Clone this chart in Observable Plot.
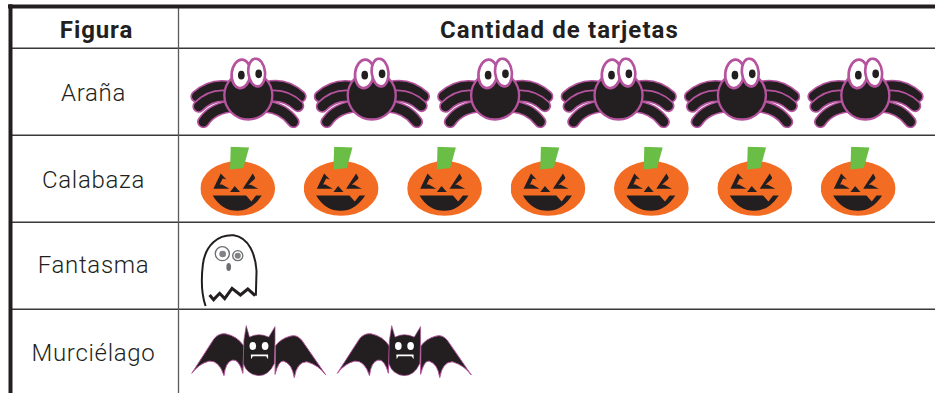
<!DOCTYPE html>
<html lang="es">
<head>
<meta charset="utf-8">
<style>html,body{margin:0;padding:0;background:#fff;overflow:hidden}svg{display:block}
.h1 text,text.h1{letter-spacing:.9px}
.h2 text,text.h2{letter-spacing:1.1px}
.lab text,text.lab{letter-spacing:.7px}
</style>
<script src="https://cdn.jsdelivr.net/npm/d3@7"></script>
<script src="https://cdn.jsdelivr.net/npm/@observablehq/plot@0.6"></script>
</head>
<body>
<div id="chart"></div>
<script>
const figures = ["Araña", "Calabaza", "Fantasma", "Murciélago"];
const cardCounts = [6, 7, 1, 2];
const headers = ["Figura", "Cantidad de tarjetas"];

// Layout per row: first icon centre, icon spacing, icon box size (all in x-scale units / px)
const layout = {
  "Araña":      {start: 248, step: 123.4, w: 117, h: 71, cy: 0.51},
  "Calabaza":   {start: 237.4, step: 103.4, w: 75,  h: 70, cy: 0.53},
  "Fantasma":   {start: 228.7, step: 100,   w: 58,  h: 75, cy: 0.55},
  "Murciélago": {start: 258.3, step: 145.5, w: 136, h: 54, cy: 0.49}
};

const ink = "#231f20", purple = "#b5539e";
const wrap = (vb, body) => "data:image/svg+xml," + encodeURIComponent(
  `<svg xmlns="http://www.w3.org/2000/svg" viewBox="${vb}" preserveAspectRatio="none">${body}</svg>`);

const leg = d => `<path d="${d}" fill="none" stroke="${purple}" stroke-width="38" stroke-linecap="round"/><path d="${d}" fill="none" stroke="${ink}" stroke-width="28" stroke-linecap="round"/>`;
const spider = wrap("30 22 351 213", `
  ${leg("M150 112 Q95 100 50 140")}
  ${leg("M150 140 Q95 130 56 170")}
  ${leg("M160 170 Q100 172 70 216")}
  ${leg("M260 112 Q315 98 361 140")}
  ${leg("M260 140 Q315 130 354 168")}
  ${leg("M255 170 Q310 174 340 216")}
  <circle cx="205" cy="137" r="72" fill="${ink}" stroke="${purple}" stroke-width="7"/>
  <ellipse cx="183" cy="72" rx="28" ry="43" transform="rotate(6 183 72)" fill="#fff" stroke="${purple}" stroke-width="8"/>
  <ellipse cx="230" cy="68" rx="25" ry="42" transform="rotate(-6 230 68)" fill="#fff" stroke="${purple}" stroke-width="8"/>
  <ellipse cx="184" cy="76" rx="10" ry="13" fill="${ink}"/>
  <ellipse cx="236" cy="72" rx="10" ry="13" fill="${ink}"/>`);

const pumpkin = wrap("61 289 225 210", `
  <ellipse cx="173" cy="415" rx="112" ry="82" fill="#f36c23"/>
  <path d="M152 290 L207 292 L190 354 L150 358 Z" fill="#6abd45"/>
  <path d="M122 370 L100 416 L148 416 L126 403 L119 403 L128 385 L139 388 Z" fill="${ink}"/>
  <path d="M218 370 L188 416 L235 416 L212 404 L205 404 L224 387 L225 382 Z" fill="${ink}"/>
  <path d="M164 408 L150 426 L180 426 Z" fill="${ink}"/>
  <path d="M98 436 H198 L214 454 L228 436 H245 Q215 482 172 482 Q125 482 98 436 Z" fill="${ink}"/>`);

const ghost = wrap("60 25 173 225", `
  <path d="M76 245 C64 210 62 170 68 120 C76 60 115 30 160 33 C205 40 225 90 228 140 L226 214" fill="none" stroke="${ink}" stroke-width="6"/>
  <path d="M88 212 L100 226 L118 207 L133 223 L155 192 L180 212 L202 194 L224 214" fill="none" stroke="${ink}" stroke-width="9"/>
  <circle cx="126" cy="88" r="21" fill="#fff" stroke="#6d6e71" stroke-width="4"/>
  <circle cx="127" cy="89" r="10" fill="#808285"/>
  <circle cx="172" cy="94" r="15" fill="#fff" stroke="#6d6e71" stroke-width="4"/>
  <circle cx="172" cy="94" r="9" fill="#808285"/>
  <ellipse cx="145" cy="128" rx="7" ry="12" fill="#6d6e71"/>`);

const bat = wrap("30 298 410 164", `
  <path d="M33 445 L100 340 Q115 322 135 325 Q170 332 190 362 L187 445 Q175 400 155 405 Q135 410 130 452 Q115 405 85 408 Q55 415 33 445 Z" fill="${ink}" stroke="${purple}" stroke-width="3"/>
  <path d="M437 450 L365 345 Q350 326 330 332 Q300 340 285 362 L284 448 Q295 405 310 408 Q335 415 342 458 Q350 410 380 410 Q415 420 437 450 Z" fill="${ink}" stroke="${purple}" stroke-width="3"/>
  <path d="M190 345 L197 300 L207 335 Q235 320 265 335 L284 303 L284 345 L282 415 Q265 452 235 452 Q200 450 188 415 Z" fill="${ink}" stroke="${purple}" stroke-width="2"/>
  <ellipse cx="217" cy="362" rx="10" ry="12" fill="#fff"/>
  <ellipse cx="254" cy="362" rx="10" ry="12" fill="#fff"/>
  <path d="M211 388 H263 V402 L257 393 H217 L212 402 Z" fill="#fff"/>`);

const icons = {"Araña": spider, "Calabaza": pumpkin, "Fantasma": ghost, "Murciélago": bat};

const iconMarks = figures.map((f, r) => {
  const l = layout[f];
  const rows = d3.range(cardCounts[r]).map(i => ({x: l.start + i * l.step, y: r + l.cy}));
  return Plot.image(rows, {x: "x", y: "y", src: () => icons[f], width: l.w, height: l.h, preserveAspectRatio: "none"});
});

const fontFamily = "Roboto, sans-serif";
const labelY = [0.52, 0.52, 0.495, 0.51];

const chart = Plot.plot({
  width: 935, height: 393,
  marginTop: 0, marginRight: 0, marginBottom: 0, marginLeft: 0,
  style: {background: "#fff", fontFamily},
  x: {domain: [0, 935], range: [0, 935], axis: null},
  y: {domain: [-47.8 / 87, 345.2 / 87], range: [0, 393], axis: null},
  marks: [
    Plot.ruleY([0, 1, 2, 3], {x1: 10, x2: 935, stroke: "#3a3839", strokeWidth: 1.6}),
    Plot.ruleX([178], {y1: -0.48, y2: 3.97, stroke: "#5a5a5c", strokeWidth: 1.3}),
    Plot.ruleY([-0.48], {x1: 8, x2: 935, stroke: ink, strokeWidth: 4}),
    Plot.ruleX([10], {y1: -0.5, y2: 3.97, stroke: ink, strokeWidth: 4}),
    Plot.text([headers[0]], {x: () => 96, y: () => -0.21, text: d => d, fontSize: 24, fontWeight: 700, fill: ink, className: "h1"}),
    Plot.text([headers[1]], {x: () => 559, y: () => -0.21, text: d => d, fontSize: 24, fontWeight: 700, fill: ink, className: "h2"}),
    Plot.text(figures, {x: () => 93, y: (d, i) => i + labelY[i], text: d => d, fontSize: 24, fontWeight: 300, fill: ink, className: "lab"}),
    ...iconMarks
  ]
});
document.getElementById("chart").append(chart);
</script>
</body>
</html>
